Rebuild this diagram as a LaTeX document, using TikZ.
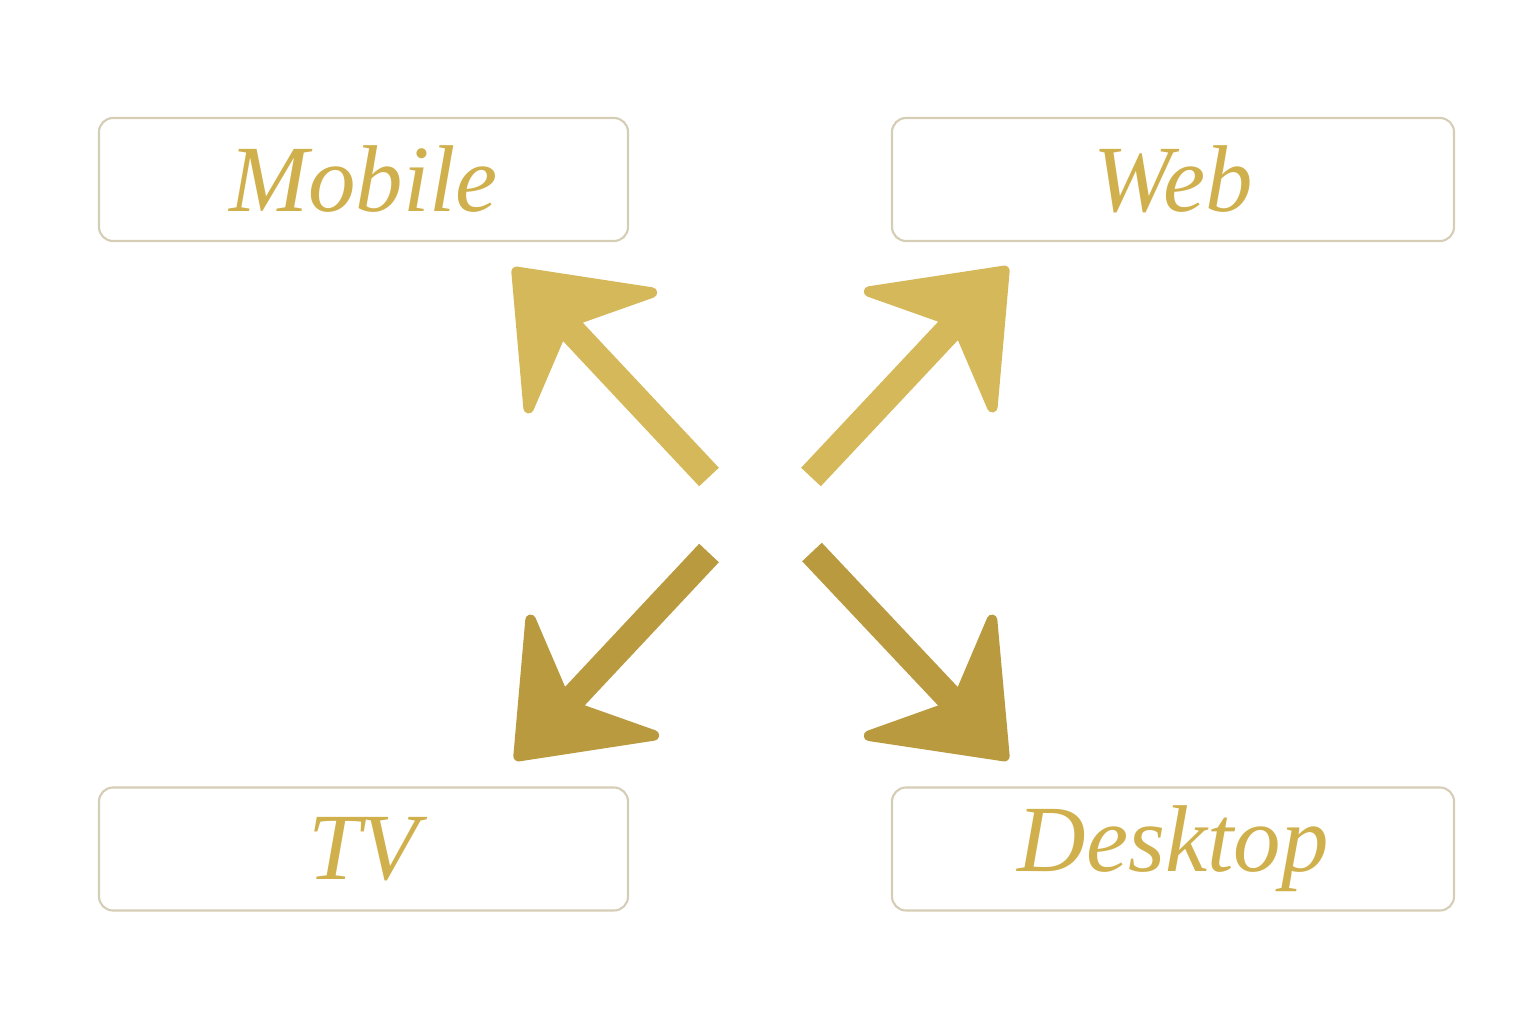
\documentclass[tikz,border=0pt]{standalone}
\usepackage{fontspec}
\setmainfont{Liberation Serif}
\usetikzlibrary{calc,arrows.meta}
\definecolor{goldtext}{HTML}{D0B04C}
\definecolor{goldlight}{HTML}{D5B859}
\definecolor{golddark}{HTML}{B99A3E}
\definecolor{boxline}{HTML}{D6CDB6}

\begin{document}
\begin{tikzpicture}[
 align=center,
 >={Stealth[length=1.29cm,width=2.02cm,inset=0.44cm,line width=3pt,round]},
 platform/.style={draw=boxline,line width=0.6pt,rectangle,rounded corners=0.14cm,
   minimum height=1.23cm,text=goldtext,font=\fontsize{27}{30}\selectfont\itshape},
 narrow/.style={platform,minimum width=5.29cm},
 wide/.style={platform,minimum width=5.62cm},
 pointer/.style={->,line width=0.27cm}
]
\useasboundingbox (0,0) rectangle (15.36,10.24);
\node (mobile) [narrow] at (3.635,8.445) {Mobile};
\node (web) [wide] at (11.73,8.445) {Web};
\node (tv) [narrow] at (3.635,1.75) {TV};
\node (desktop) [wide] at (11.73,1.75) {Desktop};
\coordinate (hub) at (7.6,5.09);
\coordinate (mobile-tail) at ($(hub)+(-0.51,0.38)$);
\coordinate (mobile-tip) at ($(hub)+(-2.47,2.47)$);
\coordinate (web-tail) at ($(hub)+(0.51,0.38)$);
\coordinate (web-tip) at ($(hub)+(2.48,2.48)$);
\coordinate (tv-tail) at ($(hub)+(-0.51,-0.38)$);
\coordinate (tv-tip) at ($(hub)+(-2.45,-2.45)$);
\coordinate (desktop-tail) at ($(hub)+(0.52,-0.37)$);
\coordinate (desktop-tip) at ($(hub)+(2.48,-2.45)$);
\draw[pointer,goldlight] (mobile-tail) -- (mobile-tip);
\draw[pointer,goldlight] (web-tail) -- (web-tip);
\draw[pointer,golddark] (tv-tail) -- (tv-tip);
\draw[pointer,golddark] (desktop-tail) -- (desktop-tip);
\end{tikzpicture}
\end{document}
